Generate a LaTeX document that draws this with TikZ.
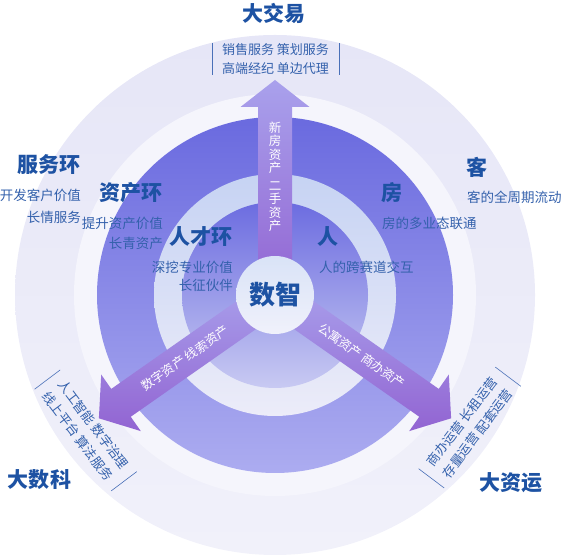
\documentclass[tikz,border=0pt]{standalone}
\usepackage{fontspec}
\setmainfont{Noto Sans CJK SC}
\usetikzlibrary{calc}
\definecolor{titleblue}{HTML}{1D52A3}
\definecolor{textblue}{HTML}{3461AC}
\definecolor{tickblue}{HTML}{4A70B8}
\definecolor{outertop}{HTML}{E6E6F7}
\definecolor{outerlow}{HTML}{F1F1FA}
\definecolor{bandwhite}{HTML}{F5F5FC}
\definecolor{ringdark}{HTML}{6A6ADF}
\definecolor{ringlight}{HTML}{ACACF0}
\definecolor{bandblue}{HTML}{C6D3F3}
\definecolor{bandlow}{HTML}{ECECF9}
\definecolor{coredark}{HTML}{6C6CE0}
\definecolor{corelight}{HTML}{C8CAF2}
\definecolor{hubtop}{HTML}{D9E3F7}
\definecolor{hublow}{HTML}{F0F1FB}
\definecolor{arrowlight}{HTML}{A9A1EC}
\definecolor{arrowdark}{HTML}{9264D2}
\tikzset{
  ringtitle/.style={font=\bfseries\fontsize{21}{21}\selectfont, text=titleblue, inner sep=0pt},
  ringtext/.style={font=\fontsize{13.5}{16}\selectfont, text=textblue, inner sep=0pt},
  arrowtext/.style={font=\fontsize{12.5}{13.5}\selectfont, text=white, inner sep=0pt},
  arrowshade/.style={top color=arrowlight, bottom color=arrowdark},
  blocktext/.style={font=\fontsize{13}{19.5}\selectfont, text=textblue, align=center, inner xsep=10pt, inner ysep=0pt},
  tick/.style={draw=tickblue, line width=0.6pt}
}

\begin{document}
\begin{tikzpicture}[x=1pt, y=1pt]
\useasboundingbox (0,0) rectangle (564,556);
\coordinate (C) at (275,261);

% rings
\shade[top color=outertop, bottom color=outerlow] (C) circle (260);
\fill[bandwhite] (C) circle (201);
\shade[top color=ringdark, bottom color=ringlight] (C) circle (178);
\shade[top color=bandblue, bottom color=bandlow] (C) circle (121);
\shade[top color=coredark, bottom color=corelight] (C) circle (93);

% arrows
\foreach \ang in {90,215,325}{
  \shade[arrowshade] ($(C)+(\ang+90:17)$) -- ++(\ang:188) -- ++(\ang+90:17.5)
    -- ($(C)+(\ang:215)$) -- ($(C)+(\ang:188)+(\ang-90:34.5)$) -- ++(\ang+90:17.5)
    -- ($(C)+(\ang-90:17)$) -- cycle;
}

% hub
\node[circle, minimum size=78pt, top color=hubtop, bottom color=hublow,
  font=\bfseries\fontsize{26}{26}\selectfont, text=titleblue] (hub) at (C) {数智};

% arrow labels
\node[arrowtext, align=center] (fangchan) at ($(C)+(90:118)$)
  {新\\房\\资\\产\\[4pt]二\\手\\资\\产};
\node[arrowtext, rotate=35] (shuzi) at ($(C)+(215:110)$) {数字资产 线索资产};
\node[arrowtext, rotate=-35] (gongyu) at ($(C)+(325:106)$) {公寓资产 商办资产};

% left labels
\node[ringtitle, anchor=east] (fuwu) at (81,391) {服务环};
\node[ringtext, anchor=east] (fuwu1) at (81,361) {开发客户价值};
\node[ringtext, anchor=east] (fuwu2) at (81,339) {长情服务};
\node[ringtitle, anchor=east] (zichan) at (163,363) {资产环};
\node[ringtext, anchor=east] (zichan1) at (163,333) {提升资产价值};
\node[ringtext, anchor=east] (zichan2) at (163,313) {长青资产};
\node[ringtitle, anchor=east] (rencai) at (233,319) {人才环};
\node[ringtext, anchor=east] (rencai1) at (233,289) {深挖专业价值};
\node[ringtext, anchor=east] (rencai2) at (233,271) {长征伙伴};

% right labels
\node[ringtitle, anchor=west] (ke) at (466,389) {客};
\node[ringtext, anchor=west] (ke1) at (467,359) {客的全周期流动};
\node[ringtitle, anchor=west] (fang) at (381,363) {房};
\node[ringtext, anchor=west] (fang1) at (382,333) {房的多业态联通};
\node[ringtitle, anchor=west] (ren) at (317,319) {人};
\node[ringtext, anchor=west] (ren1) at (319,289) {人的跨赛道交互};

% outer titles
\node[ringtitle] (dajiaoyi) at (274,543) {大交易};
\node[ringtitle] (dashuke) at (39.5,76) {大数科};
\node[ringtitle] (daziyun) at (510.5,73) {大资运};

% top block
\node[blocktext] (jiaoyi) at (275.5,497) {销售服务 策划服务\\高端经纪 单边代理};
\draw[tick] (jiaoyi.north west) -- (jiaoyi.south west);
\draw[tick] (jiaoyi.north east) -- (jiaoyi.south east);

% bottom left block
\node[blocktext, rotate=-53] (shuke) at (85.7,125.6) {人工智能 数字治理\\线上平台 算法服务};
\draw[tick] (shuke.north west) -- (shuke.south west);
\draw[tick] (shuke.north east) -- (shuke.south east);

% bottom right block
\node[blocktext, rotate=53] (ziyun) at (469.7,128.5) {商办运营 长租运营\\存量运营 配套运营};
\draw[tick] (ziyun.north west) -- (ziyun.south west);
\draw[tick] (ziyun.north east) -- (ziyun.south east);
\end{tikzpicture}
\end{document}
